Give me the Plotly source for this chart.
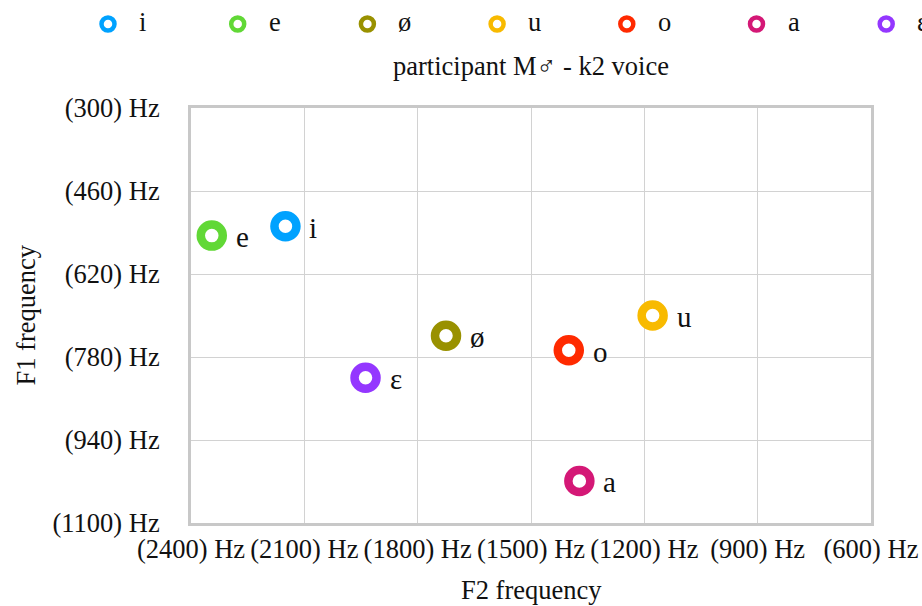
import plotly.graph_objects as go

# Vowel formant measurements (Hz)
vowels = ["i", "e", "ø", "u", "o", "a", "ɛ"]
f2_hz = [2150, 2345, 1725, 1178, 1400, 1372, 1938]
f1_hz = [528, 546, 739, 700, 767, 1019, 820]
colors = ["#00A2FF", "#61D836", "#999100", "#F8BA00", "#FF2A00", "#D41876", "#9437FF"]

x_ticks = [2400, 2100, 1800, 1500, 1200, 900, 600]
y_ticks = [300, 460, 620, 780, 940, 1100]
x_tick_text = [f"({v}) Hz" for v in x_ticks]
y_tick_text = [f"({v}) Hz" for v in y_ticks]

W, H = 922, 606
L, R, T, B = 191, 51, 108, 83
PW, PH = W - L - R, H - T - B
FONT = "Liberation Serif"
INK = "#111111"
TXT = 26.5


def paper_x(px):
    return (px - L) / PW


def paper_y(py):
    return (H - B - py) / PH


fig = go.Figure()

for name, x, y, c in zip(vowels, f2_hz, f1_hz, colors):
    fig.add_trace(go.Scatter(
        x=[x], y=[y], mode="markers", name=name, showlegend=False,
        marker=dict(symbol="circle-open", size=22, color=c,
                    line=dict(width=8.5, color=c)),
        cliponaxis=False,
    ))
    fig.add_annotation(
        x=x, y=y, text=name, showarrow=False,
        xanchor="left", yanchor="middle", xshift=22, yshift=-1.5,
        font=dict(family=FONT, size=29, color=INK),
    )

# Horizontal key row across the top
for k, (name, c) in enumerate(zip(vowels, colors)):
    cx = 108 + 129.7 * k
    fig.add_shape(
        type="circle", xref="paper", yref="paper",
        xsizemode="pixel", ysizemode="pixel",
        xanchor=paper_x(cx), yanchor=paper_y(24),
        x0=-6.5, x1=6.5, y0=-6.5, y1=6.5,
        line=dict(color=c, width=4.5), fillcolor="white",
    )
    fig.add_annotation(
        xref="paper", yref="paper", x=paper_x(cx + 29), y=paper_y(22.5),
        text=name, showarrow=False, xanchor="left", yanchor="middle",
        font=dict(family=FONT, size=TXT, color=INK),
    )

# Chart title and axis titles
fig.add_annotation(
    xref="paper", yref="paper", x=0.5, y=paper_y(66),
    text="participant M♂ - k2 voice", showarrow=False,
    xanchor="center", yanchor="middle",
    font=dict(family=FONT, size=TXT, color=INK),
)
fig.add_annotation(
    xref="paper", yref="paper", x=0.5, y=paper_y(590),
    text="F2 frequency", showarrow=False,
    xanchor="center", yanchor="middle",
    font=dict(family=FONT, size=TXT, color=INK),
)
fig.add_annotation(
    xref="paper", yref="paper", x=paper_x(25), y=0.5,
    text="F1 frequency", showarrow=False, textangle=-90,
    xanchor="center", yanchor="middle",
    font=dict(family=FONT, size=TXT, color=INK),
)

axis_common = dict(
    automargin=False,
    showgrid=True, gridcolor="#d2d2d2", gridwidth=1,
    showline=True, linecolor="#c8c8c8", linewidth=3, mirror=True,
    zeroline=False, ticks="outside", tickcolor="rgba(0,0,0,0)",
    tickfont=dict(family=FONT, size=TXT, color=INK),
)

fig.update_xaxes(
    range=[2400, 600], tickmode="array", tickvals=x_ticks, ticktext=x_tick_text,
    ticklen=0, **axis_common,
)
fig.update_yaxes(
    range=[1100, 300], tickmode="array", tickvals=y_ticks, ticktext=y_tick_text,
    ticklen=23, **axis_common,
)

fig.update_layout(
    width=W, height=H,
    margin=dict(l=L, r=R, t=T, b=B, pad=0),
    paper_bgcolor="white", plot_bgcolor="white",
    showlegend=False,
    font=dict(family=FONT, color=INK),
)

fig.write_html("out.html")
